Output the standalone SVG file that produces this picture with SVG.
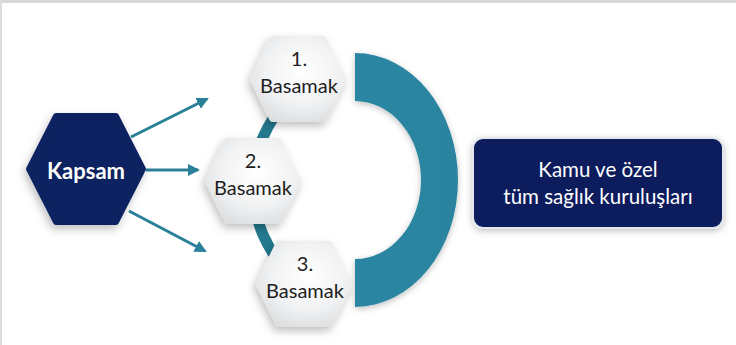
<svg xmlns="http://www.w3.org/2000/svg" width="736" height="345" viewBox="0 0 736 345">
  <defs>
    <style>
      .step { font-family: Lato, "Open Sans", "Liberation Sans", sans-serif; font-size: 20px; fill: #1e1e1e; text-anchor: middle; }
      .kap { font-family: Lato, "Open Sans", "Liberation Sans", sans-serif; font-size: 22px; font-weight: bold; fill: #ffffff; text-anchor: middle; }
      .box { font-family: Lato, "Open Sans", "Liberation Sans", sans-serif; font-size: 20.5px; fill: #ffffff; text-anchor: middle; }
      .hexstep { fill: url(#hexGrad); stroke: url(#hexGrad); stroke-width: 8; stroke-linejoin: round; filter: url(#shadow); }
      .conn { stroke: #2a7f99; stroke-width: 3; fill: none; marker-end: url(#arrow); }
    </style>
    <radialGradient id="hexGrad" cx="0.55" cy="0.4" r="0.7">
      <stop offset="0" stop-color="#ffffff"/>
      <stop offset="0.6" stop-color="#f1f2f3"/>
      <stop offset="1" stop-color="#dcdee0"/>
    </radialGradient>
    <linearGradient id="arcGrad" x1="0" y1="0" x2="1" y2="0">
      <stop offset="0" stop-color="#2a86a2"/>
      <stop offset="1" stop-color="#2b84a0"/>
    </linearGradient>
    <filter id="shadow" x="-30%" y="-30%" width="160%" height="160%">
      <feDropShadow dx="-2" dy="4" stdDeviation="4" flood-color="#000000" flood-opacity="0.25"/>
    </filter>
    <filter id="shadow2" x="-20%" y="-20%" width="140%" height="140%">
      <feDropShadow dx="0" dy="2" stdDeviation="3" flood-color="#000000" flood-opacity="0.25"/>
    </filter>
    <marker id="arrow" markerWidth="12" markerHeight="12" refX="10" refY="6" orient="auto" markerUnits="userSpaceOnUse">
      <path d="M0,0 L12,6 L0,12 Z" fill="#2a7f99"/>
    </marker>
  </defs>

  <rect x="0" y="0" width="736" height="345" fill="#ffffff"/>
  <rect x="0" y="0" width="736" height="3" fill="#d9d9d9"/>
  <rect x="0" y="0" width="2" height="345" fill="#dcdcdc"/>

  <g id="connectors">
    <line class="conn" x1="131" y1="137" x2="207" y2="99"/>
    <line class="conn" x1="146" y1="170" x2="198" y2="170"/>
    <line class="conn" x1="129" y1="211" x2="205" y2="251"/>
    <path d="M288,100 A123,123 0 0 0 288,272" fill="none" stroke="#23798f" stroke-width="11"/>
  </g>

  <g id="bracket">
    <path d="M355,53 A103,127 0 0 1 355,307 L355,259 A66,79 0 0 0 355,101 Z" fill="url(#arcGrad)" filter="url(#shadow2)"/>
  </g>

  <g id="kapsam">
    <polygon points="29,169 56,116 116,116 143,169 116,222 56,222" fill="#0c2160" stroke="#0c2160" stroke-width="6" stroke-linejoin="round" filter="url(#shadow)"/>
    <text class="kap" x="86" y="179">Kapsam</text>
  </g>

  <g id="step1">
    <polygon class="hexstep" points="254,79 273,40 323,40 342,79 323,118 273,118"/>
    <text class="step" x="299" y="66">1.</text>
    <text class="step" x="299" y="93">Basamak</text>
  </g>

  <g id="step2">
    <polygon class="hexstep" points="209,181 228,142 278,142 297,181 278,220 228,220"/>
    <text class="step" x="253" y="168">2.</text>
    <text class="step" x="253" y="195">Basamak</text>
  </g>

  <g id="step3">
    <polygon class="hexstep" points="260,284 279,245 329,245 348,284 329,323 279,323"/>
    <text class="step" x="305" y="271">3.</text>
    <text class="step" x="305" y="298">Basamak</text>
  </g>

  <g id="target">
    <rect x="473" y="138" width="250" height="90" rx="10" fill="#0b1f5c" stroke="#e4e8ee" stroke-width="2" filter="url(#shadow2)"/>
    <text class="box" x="598" y="177">Kamu ve özel</text>
    <text class="box" x="598" y="204">tüm sağlık kuruluşları</text>
  </g>
</svg>
